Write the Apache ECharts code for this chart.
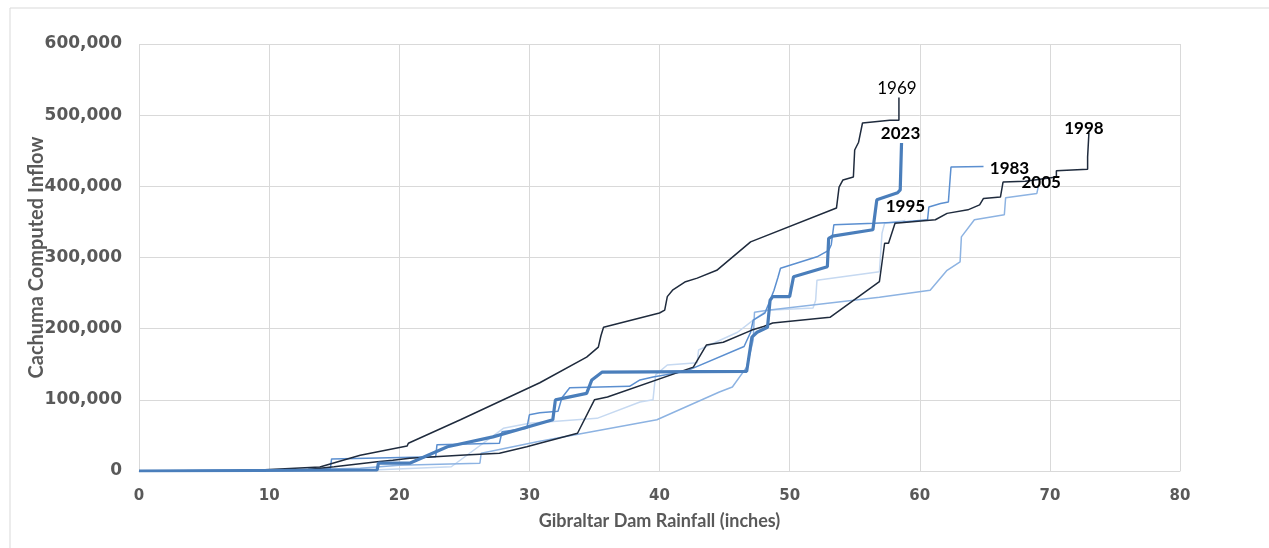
<!DOCTYPE html>
<html>
<head>
<meta charset="utf-8">
<script src="https://cdn.jsdelivr.net/npm/echarts@6/dist/echarts.min.js"></script>
<style>html,body{margin:0;padding:0;background:#fff;}#c{width:1269px;height:548px;}</style>
</head>
<body>
<div id="c"></div>
<script>
// x = Gibraltar Dam Rainfall (inches), y = Cachuma Computed Inflow
const xTicks = [0, 10, 20, 30, 40, 50, 60, 70, 80];
const yTicks = [0, 100000, 200000, 300000, 400000, 500000, 600000];

const s1969 = [[0,0],[7,500],[9.3,1400],[13.9,5600],[17,22000],[20.6,35000],[20.7,39000],[24.7,72000],[30.8,124000],[34.4,160000],[35.3,174000],[35.5,190000],[35.7,202000],[40,222000],[40.4,226000],[40.6,245000],[41,254000],[42,266000],[42.9,271000],[44.4,282000],[47,322000],[53.6,369500],[53.8,399000],[54.1,409000],[54.9,413000],[55,451000],[55.3,462000],[55.6,489000],[57.7,493000],[58.4,493000],[58.4,525000]];

const s1983 = [[0,0],[10,1000],[14.7,3000],[14.8,17000],[22.8,20000],[22.9,37000],[27.7,39000],[27.9,55000],[29.8,60000],[30,79000],[30.8,82000],[32.2,84000],[32.5,103000],[33.1,117000],[37.7,119000],[38.5,128000],[39.5,132000],[42,140000],[46.5,175000],[47,195000],[47.2,212000],[48.1,222000],[48.5,240000],[48.8,254000],[49.1,272000],[49.3,285000],[52.1,301000],[53,310000],[53.2,318000],[53.4,346000],[56.5,348000],[58.7,350000],[60.6,353000],[60.7,371000],[61.6,376000],[62.2,378000],[62.4,427000],[64.9,428000]];

const s1995 = [[0,0],[10,500],[18,1500],[24,6000],[28,60000],[30,67000],[35.2,74000],[38.5,97000],[39.5,100000],[39.7,135000],[40.6,149000],[42.9,152000],[43,170000],[46,195000],[47.2,212000],[48.3,226000],[51.8,229000],[52,240000],[52.1,268000],[56.9,280000],[57.1,334000],[57.3,348000],[58.9,352000]];

const s1998 = [[0,0],[8,300],[13,2000],[15,6000],[18.3,13000],[19.5,15000],[20.8,18000],[24.7,22000],[27.7,25000],[29.8,34000],[30.8,39000],[33.7,53000],[35,100000],[36,104000],[42.6,146000],[43.6,177000],[44.9,181000],[47.1,198000],[48,203000],[48.7,208000],[53.1,216000],[56.9,266000],[57.3,320000],[57.6,320000],[58.1,348000],[61.2,353000],[62.1,362000],[63.7,367000],[64.6,374000],[64.9,383000],[66.2,385000],[66.4,406000],[68.1,407000],[70.5,413000],[70.5,422000],[72.9,424000],[72.9,441000],[73.0,475000]];

const s2005 = [[0,0],[13,2000],[17,4000],[20,8000],[26.2,11000],[26.3,25000],[30.6,41000],[39.8,72000],[44.6,111000],[45.6,118000],[46.7,146000],[47.2,184000],[47.3,223000],[48.3,226000],[56.9,244000],[60.8,254000],[62.1,282000],[63.1,294000],[63.2,329000],[64.2,353000],[66.5,360000],[66.6,384000],[69,390000],[69.1,399000]];

const s2023 = [[0,0],[18.3,1400],[18.4,11000],[20.8,11000],[23.7,34000],[27.2,48000],[31.8,72000],[32,100000],[34.4,109000],[34.8,128000],[35.3,135000],[35.6,139000],[46.7,140000],[47.1,188000],[47.5,195000],[48.3,202000],[48.5,240000],[48.7,245000],[50,245000],[50.3,273000],[52.9,287000],[53,327000],[53.3,330000],[56.4,339000],[56.7,381000],[58.3,391000],[58.5,395000],[58.6,461000]];

const seriesNames = ['1995', '2005', '1983', '1998', '1969', '2023'];
const seriesData = [s1995, s2005, s1983, s1998, s1969, s2023];
const seriesColors = ['#c6d9f1', '#8db3e2', '#5b8fd0', '#1f2b3d', '#1f2b3d', '#4a7ebb'];
const seriesWidths = [1.5, 1.5, 1.5, 1.5, 1.5, 3.2];
const labelOffsets = [[0,-14], [3,-5], [26,2], [-5,-4], [-2,-9], [-1,-9]];
const labelWeights = ['bold', 'bold', 'bold', 'bold', 'normal', 'bold'];

function fmt(v) { return v.toString().replace(/\B(?=(\d{3})+(?!\d))/g, ','); }

const chart = echarts.init(document.getElementById('c'), null, {renderer: 'canvas'});
chart.setOption({
  animation: false,
  backgroundColor: '#fff',
  graphic: [{type: 'rect', shape: {x: 10, y: 8, width: 1300, height: 600}, style: {fill: 'none', stroke: '#d9d9d9', lineWidth: 1}, silent: true}],
  grid: {left: 139, right: 89, top: 44, bottom: 77},
  xAxis: {
    type: 'value', min: xTicks[0], max: xTicks[xTicks.length - 1], interval: 10,
    name: 'Gibraltar Dam Rainfall (inches)', nameLocation: 'middle', nameGap: 41, nameMoveOverlap: false,
    nameTextStyle: {color: '#595959', fontFamily: 'Lato', fontWeight: 'bold', fontSize: 18},
    axisLine: {show: true, lineStyle: {color: '#d9d9d9', width: 1}},
    axisTick: {show: false},
    axisLabel: {color: '#595959', fontFamily: 'DejaVu Sans', fontWeight: 'bold', fontSize: 15, margin: 18},
    splitLine: {show: true, lineStyle: {color: '#d9d9d9', width: 1}}
  },
  yAxis: {
    type: 'value', min: yTicks[0], max: yTicks[yTicks.length - 1], interval: 100000,
    name: 'Cachuma Computed Inflow', nameLocation: 'middle', nameGap: 92, nameMoveOverlap: false,
    nameTextStyle: {color: '#595959', fontFamily: 'Lato', fontWeight: 'bold', fontSize: 20},
    axisLine: {show: false}, axisTick: {show: false},
    axisLabel: {color: '#595959', fontFamily: 'DejaVu Sans', fontWeight: 'bold', fontSize: 17, margin: 17, formatter: fmt},
    splitLine: {show: true, lineStyle: {color: '#d9d9d9', width: 1}}
  },
  series: seriesNames.map((n, i) => ({
    name: n, type: 'line', data: seriesData[i], showSymbol: false, symbol: 'none',
    lineStyle: {color: seriesColors[i], width: seriesWidths[i]},
    itemStyle: {color: seriesColors[i]},
    silent: true,
    markPoint: {
      symbol: 'circle', symbolSize: 0, silent: true,
      label: {show: true, position: 'inside', formatter: n, offset: labelOffsets[i], color: '#000',
        fontFamily: 'Lato', fontWeight: labelWeights[i], fontSize: 17},
      data: [{coord: seriesData[i][seriesData[i].length - 1]}]
    }
  }))
});
</script>
</body>
</html>
